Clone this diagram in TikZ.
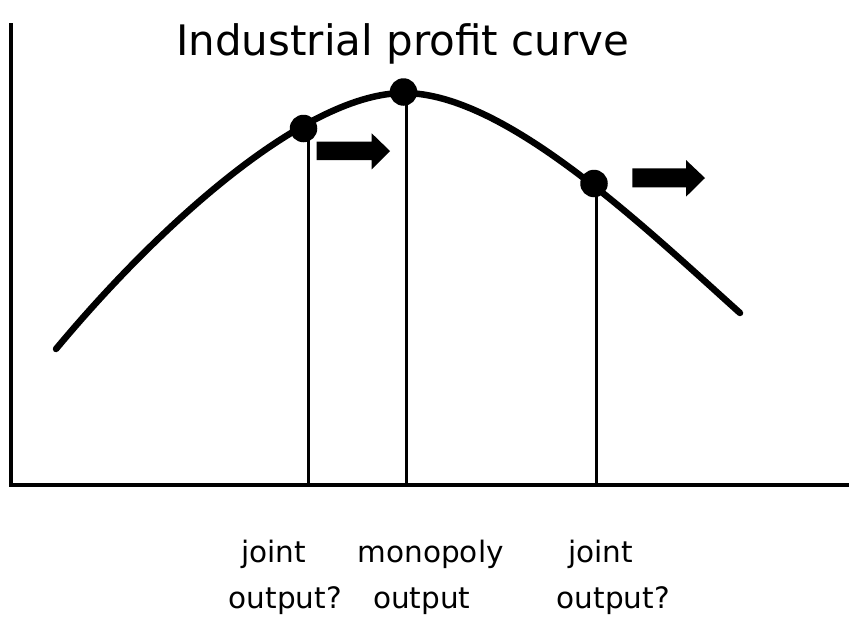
\documentclass[tikz,border=0pt]{standalone}
\usepackage{fontspec}
\setmainfont{DejaVu Sans}
\begin{document}
\begin{tikzpicture}[x=1pt,y=-1pt,
  axisline/.style={line width=3.8pt},
  curveline/.style={line width=6.5pt,line cap=round},
  dropline/.style={line width=3pt},
  bigdot/.style={circle,fill=black,inner sep=0pt,minimum size=27.5pt},
  blockarrow/.style={fill=black},
  lbl/.style={anchor=base west,inner sep=0pt,font=\fontsize{29.5}{34}\selectfont},
  ttl/.style={anchor=base west,inner sep=0pt,font=\fontsize{42}{48}\selectfont}]
\useasboundingbox (0,0) rectangle (849,621);
% axes
\coordinate (ytop) at (11,23);
\coordinate (origin) at (11,485);
\coordinate (xend) at (849,485);
\draw[axisline] (ytop) -- (origin) -- (xend);
% curve
\coordinate (cstart) at (56,349);
\coordinate (cpeak) at (404,93);
\coordinate (cend) at (740,313);
\draw[curveline] (cstart) .. controls (166,217) and (309,93) .. (cpeak)
  .. controls (504,93) and (640,223) .. (cend);
% dots
\node[bigdot] (d1) at (303.5,128.5) {};
\node[bigdot] (d2) at (403.5,92) {};
\node[bigdot] (d3) at (594,183.5) {};
% drop lines
\coordinate (t1) at (308.5,130);
\coordinate (b1) at (308.5,485);
\coordinate (t2) at (406,93);
\coordinate (b2) at (406,485);
\coordinate (t3) at (596,185);
\coordinate (b3) at (596,485);
\draw[dropline] (t1) -- (b1);
\draw[dropline] (t2) -- (b2);
\draw[dropline] (t3) -- (b3);
% block arrows
\fill[blockarrow] (316.7,141.7) -- (371.7,141.7) -- (371.7,133.3) -- (390,151) -- (371.7,169.3) -- (371.7,160) -- (316.7,160) -- cycle;
\fill[blockarrow] (632.3,168.3) -- (686,168.3) -- (686,160) -- (705,178) -- (686,196.7) -- (686,187.3) -- (632.3,187.3) -- cycle;
% title
\node[ttl] (title) at (176,55) {Industrial profit curve};
% labels
\node[lbl] (l1a) at (241,562) {joint};
\node[lbl] (l1b) at (228.5,608) {output?};
\node[lbl] (l2a) at (357.5,562) {monopoly};
\node[lbl] (l2b) at (373,608) {output};
\node[lbl] (l3a) at (568,562) {joint};
\node[lbl] (l3b) at (556.5,608) {output?};
\end{tikzpicture}
\end{document}
